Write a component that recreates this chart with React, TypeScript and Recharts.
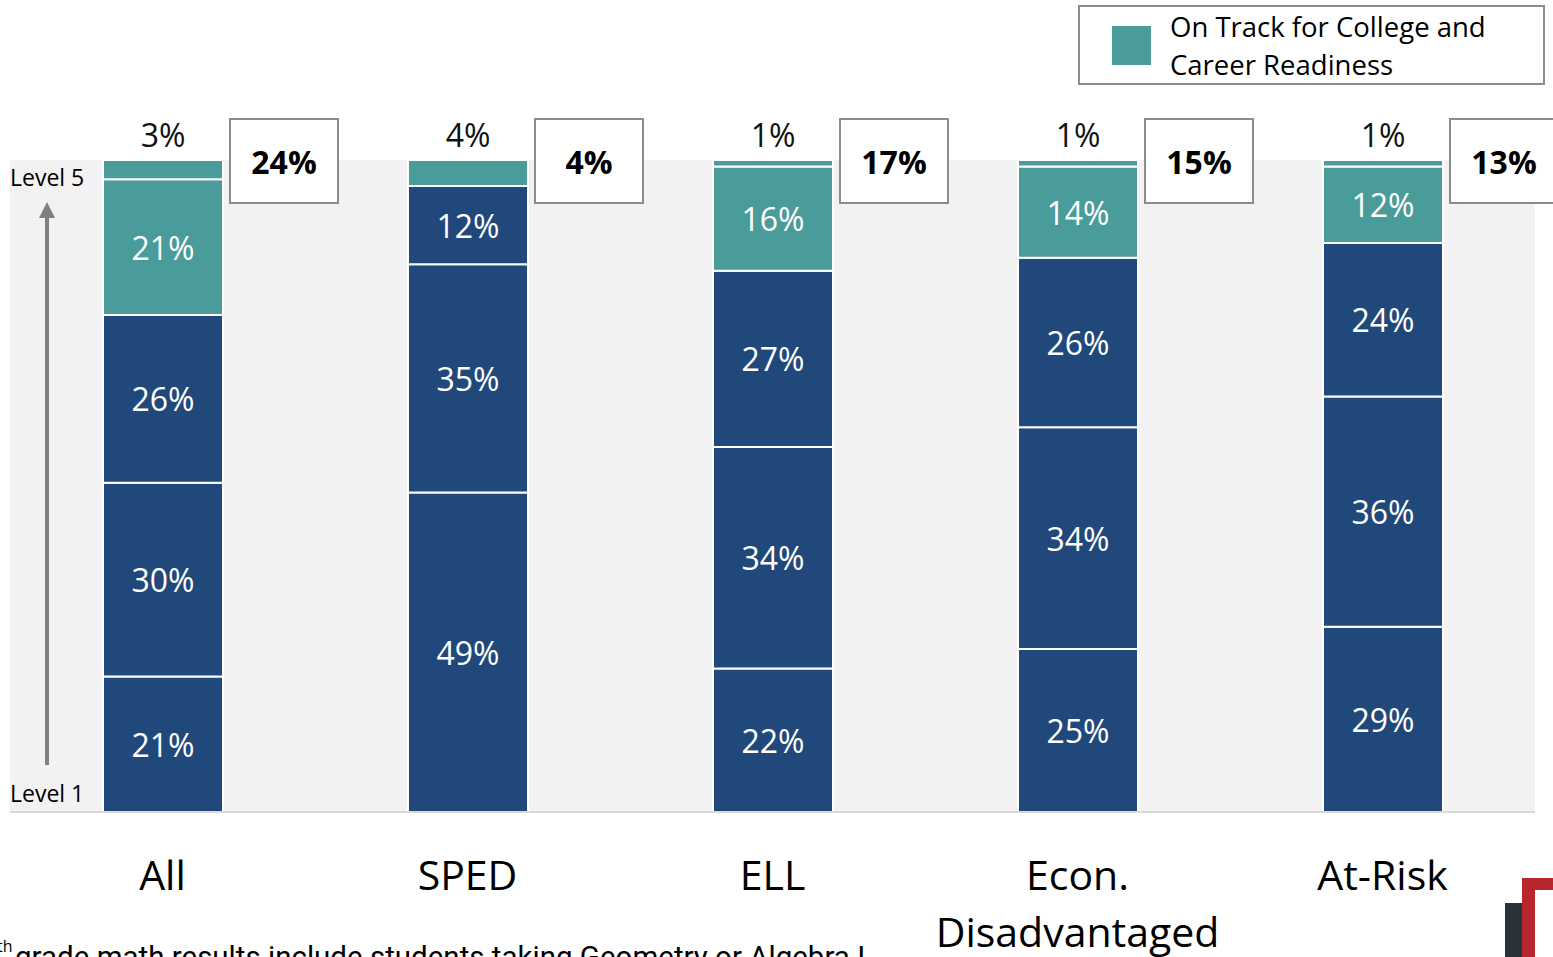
import React from "react"
import { BarChart, Bar, XAxis, YAxis, CartesianGrid, LabelList, Legend, Customized } from "recharts"

// categories and level shares (% of students)
const categories = ["All", "SPED", "ELL", "Econ. Disadvantaged", "At-Risk"]
const level1 = [21, 49, 22, 25, 29]
const level2 = [30, 35, 34, 34, 36]
const level3 = [26, 12, 27, 26, 24]
const level4 = [21, 0, 16, 14, 12]
const level5 = [3, 4, 1, 1, 1]
const onTrack = [24, 4, 17, 15, 13]

const DARK = "#21487a"
const TEAL = "#4a9c9a"
const FONT = "'Open Sans', 'Noto Sans', sans-serif"

const data = categories.map((name, i) => ({
  name,
  l1: level1[i],
  l2: level2[i],
  l3: level3[i],
  l4: level4[i],
  l5: level5[i],
}))

const series = [
  { key: "l1", color: DARK },
  { key: "l2", color: DARK },
  { key: "l3", color: DARK },
  { key: "l4", color: TEAL },
]

// white percentage inside a segment
const inside = (props: any) => {
  const { x, y, width, height, value } = props
  if (!value) return null
  return (
    <text
      x={x + width / 2}
      y={y + height / 2}
      textAnchor="middle"
      dominantBaseline="central"
      fill="#fff"
      fontSize={32}
      fontFamily={FONT}
    >
      {value}%
    </text>
  )
}

// level 5 value above the bar + boxed on-track total
const topLabel = (props: any) => {
  const { x, y, width, value } = props
  const i = categories.indexOf(value)
  const bx = x + width + 7
  return (
    <g>
      <text x={x + width / 2} y={y - 26} textAnchor="middle" dominantBaseline="central" fill="#111" fontSize={32} fontFamily={FONT}>
        {level5[i]}%
      </text>
      <rect x={bx} y={y - 41} width={108} height={84} fill="#fff" stroke="#8c8c8c" strokeWidth={2} />
      <text x={bx + 54} y={y + 1} textAnchor="middle" dominantBaseline="central" fill="#000" fontSize={32} fontWeight="bold" fontFamily={FONT}>
        {onTrack[i]}%
      </text>
    </g>
  )
}

const CategoryTick = (props: any) => {
  const { x, y, payload } = props
  const lines = String(payload.value).split(" ")
  return (
    <g>
      {lines.map((l, i) => (
        <text key={i} x={x} y={y + 70 + i * 57} textAnchor="middle" fill="#000" fontSize={41} fontFamily={FONT}>
          {l}
        </text>
      ))}
    </g>
  )
}

const LegendBox = () => (
  <div
    style={{
      width: 467,
      height: 80,
      boxSizing: "border-box",
      border: "2px solid #8c8c8c",
      background: "#fff",
      display: "flex",
      alignItems: "center",
      fontFamily: FONT,
    }}
  >
    <div style={{ width: 39, height: 39, background: TEAL, marginLeft: 32, marginRight: 19 }} />
    <div style={{ fontSize: 27.5, lineHeight: "38px", color: "#000", marginTop: 2 }}>
      On Track for College and
      <br />
      Career Readiness
    </div>
  </div>
)

// level arrow, footnote and corner logo
const Extras = () => (
  <g>
    <line x1={47} y1={765} x2={47} y2={216} stroke="#808080" strokeWidth={4} />
    <polygon points="39,218 55,218 47,202" fill="#808080" />
    <text x={10} y={177} dominantBaseline="central" fontSize={23} fontFamily={FONT} fill="#000">
      Level 5
    </text>
    <text x={10} y={793} dominantBaseline="central" fontSize={23} fontFamily={FONT} fill="#000">
      Level 1
    </text>
    <text x={-3} y={952} fontSize={16} fontFamily={FONT} fill="#000">th</text>
    <text x={15} y={967} fontSize={29.5} fontFamily="Roboto, sans-serif" fill="#000">
      grade math results include students taking Geometry or Algebra I
    </text>
    <rect x={1505} y={903} width={17} height={54} fill="#2b3238" />
    <rect x={1522} y={878} width={13} height={79} fill="#b8262d" />
    <rect x={1522} y={878} width={31} height={12} fill="#b8262d" />
  </g>
)

export default function App() {
  return (
    <div style={{ position: "absolute", left: 0, top: 0, width: 1553, height: 957, overflow: "hidden", background: "#fff" }}>
      <BarChart
        width={1553}
        height={957}
        data={data}
        stackOffset="expand"
        barSize={120}
        margin={{ top: 160, right: 18, left: 10, bottom: 0 }}
      >
        <CartesianGrid horizontal={false} vertical={false} fill="#f2f2f2" stroke="none" />
        <XAxis
          dataKey="name"
          height={145}
          interval={0}
          tickLine={false}
          axisLine={{ stroke: "#d9d9d9", strokeWidth: 2 }}
          tick={<CategoryTick />}
        />
        <YAxis hide domain={[0, 1]} />
        <Legend
          layout="horizontal"
          verticalAlign="middle"
          align="center"
          content={<LegendBox />}
          wrapperStyle={{ top: 5, left: 1078, width: 467, height: 80 }}
        />
        {series.map((s) => (
          <Bar key={s.key} dataKey={s.key} stackId="a" fill={s.color} stroke="#fff" strokeWidth={2} isAnimationActive={false}>
            <LabelList content={inside} valueAccessor={(e: any) => e.payload?.[s.key]} />
          </Bar>
        ))}
        <Bar dataKey="l5" stackId="a" fill={TEAL} stroke="#fff" strokeWidth={2} isAnimationActive={false}>
          <LabelList content={topLabel} valueAccessor={(e: any) => e.payload?.name} />
        </Bar>
        <Customized component={Extras} />
      </BarChart>
    </div>
  )
}
